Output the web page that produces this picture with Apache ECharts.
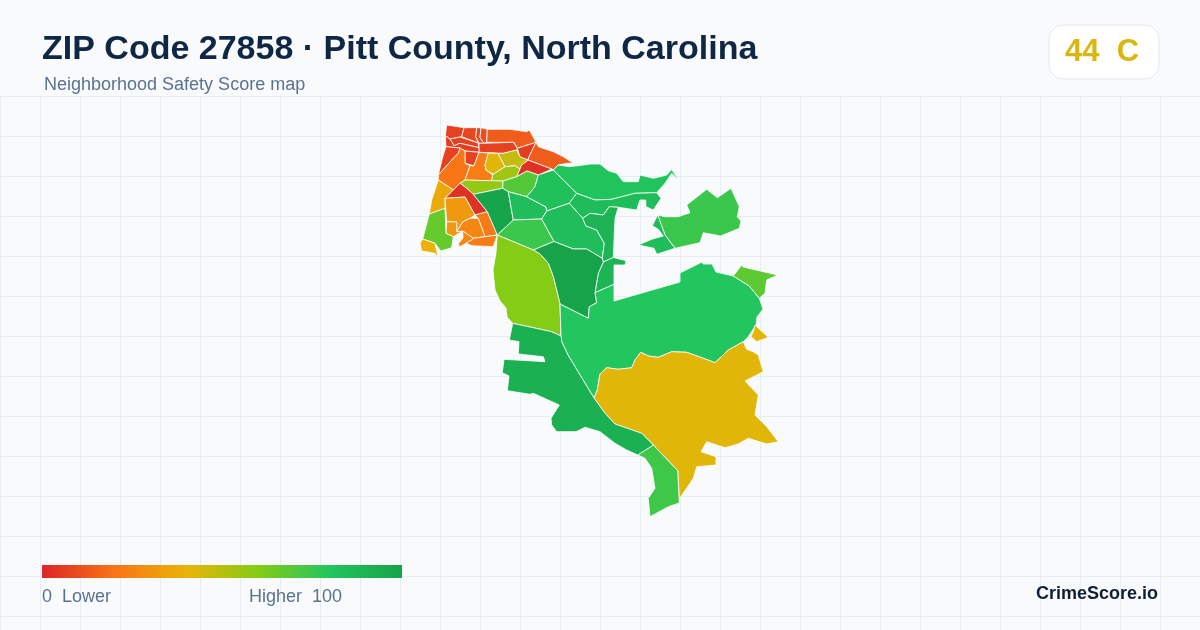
<!DOCTYPE html>
<html lang="en">
<head>
    <meta charset="UTF-8">
    <title>ZIP Code 27858</title>
    <script src="https://cdn.jsdelivr.net/npm/echarts@6/dist/echarts.min.js"></script>
    <style>
        html, body { margin: 0; padding: 0; background: #f8fafc; }
        #main { width: 1200px; height: 630px; }
    </style>
</head>
<body>
<div id="main"></div>
<script>
    var titleText = 'ZIP Code 27858 · Pitt County, North Carolina';
    var subtitleText = 'Neighborhood Safety Score map';
    var badgeText = '44  C';
    var brandText = 'CrimeScore.io';
    var legendLow = '0  Lower';
    var legendHigh = 'Higher  100';

    var scaleColors = ['#dc2626', '#f97316', '#eab308', '#84cc16', '#22c55e', '#16a34a'];

    var regionScores = {
        a: 7, b: 8, c1: 9, c2: 10, d: 14, e: 7, f: 7, g: 6, h: 7, i: 7, j: 21, k: 23,
        l: 42, m: 47, n: 55, o: 3, p: 6, q: 14, s: 57, t: 37, u: 3, v: 32, w: 32, x: 22,
        y: 26, z: 26, aa: 23, ab: 66, ac: 39, ad: 70, ae: 99, af: 84, ag: 75, ah: 83, ai: 81,
        aj: 85, ak: 84, al: 90, am: 90, an: 100, ao: 60, bc: 80, by: 42, bs: 74, sw: 92,
        dot: 41, ne: 68, eb: 75, wb: 85
    };

    // outlines, one ring per region
    var regionOutlines = {
        a: [[446.7,125],[464,127.7],[461.7,136.7],[460,137],[450,139],[445.3,135.7]],
        b: [[464,127.7],[476.7,127.7],[475.7,136.7],[478.3,143],[461.7,136.7]],
        c1: [[476.7,127.7],[481,127.7],[480,137.7],[484,143.3],[479,143.3],[475.7,136.7]],
        c2: [[481,127.7],[487.3,129.3],[486.7,142.3],[484,143.3],[480,137.7]],
        d: [[487.3,129.3],[510,129.3],[526.7,131.7],[529.3,130],[536,142.3],[517.3,148.3],[514,142.3],[486.7,142.3]],
        e: [[450,139],[460,137],[478.3,143],[479,147.7],[460,143.3],[454,145.7]],
        f: [[479,143.3],[484,143.3],[513.3,142.3],[517.3,148.3],[516.7,150],[503.3,153.3],[479,152.3]],
        g: [[445.3,135.7],[450,139],[454,145.7],[460,143.3],[479,147.7],[479,152.3],[465,151],[460,148],[446,146.7]],
        h: [[446,146.7],[460,148],[458.3,153.3],[453.3,158.3],[438.3,175],[442.7,157]],
        i: [[465,151],[479,152.3],[474,165.7],[465,163.3]],
        j: [[438.3,175],[453.3,158.3],[458.3,153.3],[460,148],[465,151],[465,163.3],[470,165.7],[465,180],[460,183.3],[453.3,190],[438.3,180]],
        k: [[479,152.3],[488.3,153],[485,165],[486,170],[492.7,175],[491.7,181],[465,180],[470,165.7],[474,165.7]],
        l: [[488.3,153],[498,153.5],[505,166.7],[493.3,174.3],[492.7,175],[486,170],[485,165]],
        m: [[498,153.5],[503.3,153.3],[516.7,150],[520,156.7],[528.3,160],[521.7,165],[520,169],[515,165.7],[505,166.7]],
        n: [[505,166.7],[515,165.7],[520,169],[516.7,176.7],[503,181],[491.7,181],[492.7,175],[493.3,174.3]],
        o: [[528.3,160],[552,169],[538.3,175],[527,171],[516.7,176.7],[521.7,165]],
        p: [[517.3,148.3],[536,142.3],[528.3,158.3],[528.3,160],[520,156.7]],
        q: [[536,142.3],[538.3,146.7],[553.3,151.7],[563.3,156.7],[573.3,163.3],[566.7,163.3],[558.3,165],[553.3,170],[552,169],[528.3,160],[528.3,158.3]],
        s: [[460,183.3],[465,180],[502.7,181],[502.7,188.3],[473.3,194.3],[466.7,188.3]],
        t: [[438.3,180],[453.3,190],[445,198.3],[445,208.3],[429.3,214],[431.7,200]],
        u: [[460,183.3],[466.7,188.3],[473.3,194.3],[487.3,211.7],[475,215],[465,197],[445,198.3],[453.3,190]],
        v: [[445,198.3],[465,197],[475,215],[470,218.3],[463,221.7],[456.7,231.7],[456.7,222],[446.7,221.7]],
        w: [[446.7,221.7],[456.7,222],[456.7,231.7],[462.7,231],[453.3,236.7],[446,233.3]],
        x: [[475,215],[487.3,211.7],[497.3,235],[485,236.7],[478.3,218.3]],
        y: [[463,221.7],[470,218.3],[478.3,218.3],[485,236.7],[473.3,238.3],[462.7,231],[456.7,231.7]],
        z: [[462.7,231],[473.3,238.3],[471.7,240],[460,246.7],[458,244],[463,238]],
        aa: [[471.7,240],[473.3,238.3],[485,236.7],[497.3,235],[493.3,246.7],[471.7,245.7],[466,243]],
        ab: [[429.3,214],[445,208.3],[446,233.3],[453.3,236.7],[451.7,247.7],[440.7,251],[435,243.3],[422.7,239]],
        ac: [[422.7,239],[435,243.3],[438.3,258.3],[435,253.3],[421.7,251],[420,243.3]],
        ad: [[503,181],[516.7,176.7],[527,171],[538.3,175],[535,186.7],[526.7,196.7],[508.3,191.7],[502.7,188.3]],
        ae: [[473.3,194.3],[502.7,188.3],[508.3,191.7],[513.3,220],[497.3,235],[487.3,211.7]],
        af: [[508.3,191.7],[526.7,196.7],[546,207],[546.7,211],[541.7,219],[513.3,220]],
        ag: [[513.3,220],[541.7,219],[554,241.5],[533.3,250],[497.3,235]],
        ah: [[553.3,170],[561.7,178.3],[576.7,193.3],[569.3,203.3],[546.7,211],[546,207],[526.7,196.7],[535,186.7],[538.3,175]],
        ai: [[553.3,170],[558.3,165],[570,166.7],[583.3,165],[590,164],[600,164],[608.3,170.7],[616.7,173.3],[623.3,181.7],[638.3,181.7],[640,175],[653.3,178.3],[666.7,175],[671.7,169.5],[679,180.7],[671.7,173.3],[665,183.3],[656.7,192.7],[635,193.3],[611.7,199.3],[595,200],[576.7,193.3],[561.7,178.3]],
        aj: [[576.7,193.3],[595,200],[611.7,199.3],[635,193.3],[656.7,192.7],[661,198.3],[653.3,210],[646,206.7],[645.7,200],[640,200],[636.7,210],[618.3,207.3],[609.3,206.7],[603.3,215],[590,213.3],[582.7,218.3],[569.3,203.3]],
        ak: [[569.3,203.3],[582.7,218.3],[586,226],[596.7,230],[604.3,243.3],[602.3,258.3],[586.7,249],[573.3,249],[554,241.5],[541.7,219],[546.7,211]],
        al: [[582.7,218.3],[590,213.3],[603.3,215],[609.3,206.7],[618.3,207.3],[615,218.3],[613.3,257.5],[603.3,262],[602.3,258.3],[604.3,243.3],[596.7,230],[586,226]],
        am: [[603.3,262],[613.3,257.5],[626,260.7],[625,265],[614,265],[614,284.3],[595,292.7],[598.3,273.3]],
        an: [[533.3,250],[554,241.5],[573.3,249],[586.7,249],[602.3,258.3],[603.3,262],[598.3,273.3],[595,292.7],[596.7,302.7],[589.3,306.7],[588.3,318.3],[560,304],[553.3,276.7],[548.3,263.3],[540,254]],
        ao: [[497.3,235],[533.3,250],[540,254],[548.3,263.3],[553.3,276.7],[560,304],[561,336],[551.7,331.7],[512.7,323.3],[507,317],[506,308],[500,301],[495,290],[493,270],[496,253]],
        bc: [[560,304],[588.3,318.3],[589.3,306.7],[596.7,302.7],[595,292.7],[614,284.3],[614,301],[680,282],[680,273],[702,262],[703,264],[712,264],[716,272],[733.3,276],[749.3,286],[759.3,298.3],[763,309],[757,317],[756,325],[748,337],[743.3,341.7],[728.3,350],[715,362.7],[703.3,358.3],[686.7,352.3],[671.7,351.7],[658.3,357.3],[648.3,356],[640.7,352.3],[635,360],[631.7,367.7],[618.3,369.3],[606.7,367.7],[600,374],[597.3,390],[594,398],[580,375],[568,355],[561.7,341.7],[561,336]],
        by: [[594,398],[597.3,390],[600,374],[606.7,367.7],[618.3,369.3],[631.7,367.7],[635,360],[640.7,352.3],[648.3,356],[658.3,357.3],[671.7,351.7],[686.7,352.3],[703.3,358.3],[715,362.7],[728.3,350],[743.3,341.7],[746.7,349.3],[753.3,351.7],[758.3,355],[763.3,371.7],[745,381],[758.3,395],[755,415],[766.7,426.7],[778.3,441.7],[766.7,444],[748.3,438.3],[738.3,444],[725,447.7],[706.7,441.7],[701,451.7],[716,456.7],[716,465],[696.7,466.7],[693.3,478.3],[679.3,499],[677.7,470.7],[653.3,445],[641.7,433.3],[615,424],[605,413.3]],
        bs: [[653.3,445],[677.7,470.7],[679.3,503],[668.3,506.7],[650,516.7],[648.3,498.3],[655,488.3],[651.7,468.3],[645,458.3],[637.7,455]],
        sw: [[561,336],[561.7,341.7],[568,355],[580,375],[594,398],[605,413.3],[615,424],[641.7,433.3],[653.3,445],[637.7,455],[626.7,450],[615,443.3],[600,431.7],[585,427.3],[576,431.7],[556.7,431.7],[551.7,425],[551,418.3],[559.3,405],[533.3,393.3],[530,394.3],[507.3,390.7],[509,376],[502.3,372.7],[504,359.3],[545,361.7],[543.3,356.7],[518.3,354],[519,341.7],[509.3,340],[512.7,323.3],[551.7,331.7]],
        dot: [[755,325],[768.3,337.3],[756.7,341.7],[751,336.7],[753.3,331.7]],
        ne: [[733.3,276],[741.7,265],[743,267],[777.7,275],[766.7,280],[765,293.3],[759.3,298.3],[749.3,286]],
        eb: [[657.7,215],[665,216.7],[678.3,216.7],[690,212.7],[686.7,205],[706.7,189.3],[717.3,197.7],[731,188.3],[739.3,206.7],[737.3,216.7],[741,221],[739.3,228.3],[720.7,236],[703.3,232.7],[700,242.7],[675,248.3],[665,235]],
        wb: [[657.7,215],[665,235],[675,248.3],[656.7,254.3],[654,248.3],[638.3,245],[651.7,239.3],[663.3,236],[658.3,229.3],[652.3,225.7]]
    };

    var features = [];
    var mapData = [];
    for (var key in regionOutlines) {
        features.push({
            type: 'Feature',
            properties: { name: key },
            geometry: { type: 'Polygon', coordinates: [regionOutlines[key]] }
        });
        mapData.push({ name: key, value: regionScores[key] });
    }
    echarts.registerMap('zip27858', { type: 'FeatureCollection', features: features });

    var myChart = echarts.init(document.getElementById('main'), null, { renderer: 'canvas' });

    var fontName = '"Liberation Sans", Arial, sans-serif';

    var gradientStops = scaleColors.map(function (c, i) {
        return { offset: i / (scaleColors.length - 1), color: c };
    });

    var option = {
        animation: false,
        backgroundColor: '#f8fafc',
        grid: { left: 0.5, top: 96.5, width: 1200, height: 534 },
        xAxis: {
            type: 'value', min: 0, max: 1200, interval: 40, silent: true,
            axisLine: { show: false }, axisTick: { show: false }, axisLabel: { show: false },
            splitLine: { show: true, lineStyle: { color: '#e7eef3', width: 1 } }
        },
        yAxis: {
            type: 'value', min: 0, max: 534, interval: 40, inverse: true, silent: true,
            axisLine: { show: false }, axisTick: { show: false }, axisLabel: { show: false },
            splitLine: { show: true, lineStyle: { color: '#e7eef3', width: 1 } }
        },
        visualMap: {
            type: 'continuous',
            show: false,
            seriesIndex: 0,
            min: 0,
            max: 100,
            inRange: { color: scaleColors }
        },
        series: [{
            type: 'map',
            map: 'zip27858',
            projection: {
                project: function (p) { return p; },
                unproject: function (p) { return p; }
            },
            boundingCoords: [[0, 0], [1200, 630]],
            left: 0,
            top: 0,
            width: 1200,
            height: 630,
            roam: false,
            silent: true,
            label: { show: false },
            itemStyle: { borderColor: '#ffffff', borderWidth: 0.8 },
            data: mapData
        }],
        graphic: [
            { type: 'text', z: 10, left: 42, top: 33, silent: true, style: { text: titleText, fill: '#0f2744', font: 'bold 34px ' + fontName } },
            { type: 'text', z: 10, left: 44, top: 76, silent: true, style: { text: subtitleText, fill: '#5b7290', font: '18px ' + fontName } },
            { type: 'rect', z: 10, left: 1048.5, top: 24.5, silent: true, shape: { width: 110, height: 54, r: 14 }, style: { fill: '#ffffff', stroke: '#e2e8f0', lineWidth: 1 } },
            { type: 'text', z: 11, left: 1065, top: 37, silent: true, style: { text: badgeText, fill: '#dab710', font: 'bold 31px ' + fontName } },
            {
                type: 'rect', z: 10, left: 42, top: 565, silent: true,
                shape: { width: 360, height: 13 },
                style: { fill: new echarts.graphic.LinearGradient(0, 0, 1, 0, gradientStops) }
            },
            { type: 'text', z: 10, left: 42, top: 588, silent: true, style: { text: legendLow, fill: '#5b7290', font: '18px ' + fontName } },
            { type: 'text', z: 10, left: 249, top: 588, silent: true, style: { text: legendHigh, fill: '#5b7290', font: '18px ' + fontName } },
            { type: 'text', z: 10, right: 42, top: 585, silent: true, style: { text: brandText, fill: '#0f1f33', font: 'bold 18px ' + fontName } }
        ]
    };

    myChart.setOption(option);
</script>
</body>
</html>
